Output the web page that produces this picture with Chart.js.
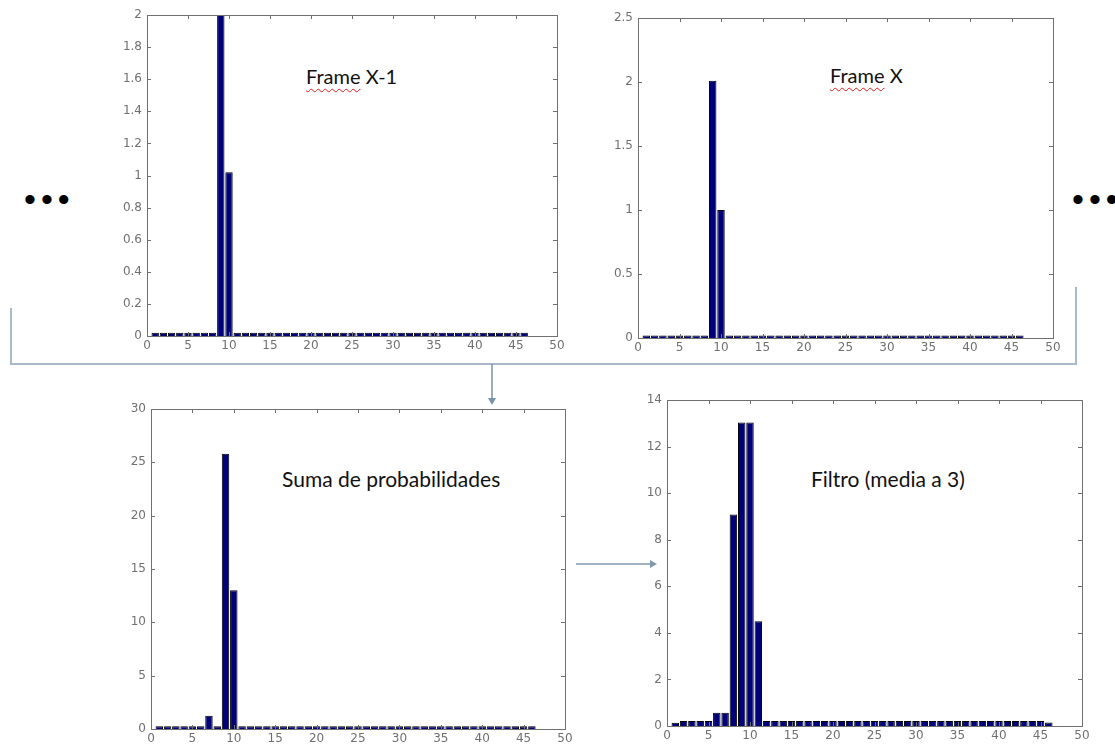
<!DOCTYPE html>
<html>
<head>
<meta charset="utf-8">
<title>Histogramas por frame</title>
<script src="https://cdn.jsdelivr.net/npm/chart.js@4.4.1/dist/chart.umd.min.js"></script>
<style>
  html, body { margin: 0; padding: 0; background: #fff; }
  #page { position: relative; width: 1115px; height: 746px; overflow: hidden; background: #fff; }
  .plot { position: absolute; }
  .note { position: absolute; font-family: Lato, 'Open Sans', sans-serif; line-height: 1; color: #111; white-space: nowrap; }
  .spell { text-decoration: underline wavy #e01b1b; text-decoration-thickness: 1px; text-underline-offset: 4px; }
  .dots { position: absolute; font-family: 'Liberation Sans', Arial, sans-serif; font-size: 34px; line-height: 1; letter-spacing: 5px; color: #000; }
  #links { position: absolute; left: 0; top: 0; }
</style>
</head>
<body>
<div id="page">
  <svg id="links" width="1115" height="746">
    <polyline points="11,308 11,364 1076,364 1076,287" fill="none" stroke="#a9b9c7" stroke-width="2"/>
    <line x1="492" y1="364" x2="492" y2="399" stroke="#7892ad" stroke-width="1.5"/>
    <polygon points="488,398 496,398 492,405" fill="#7892ad"/>
    <line x1="576" y1="564" x2="651" y2="564" stroke="#7f99ad" stroke-width="1.5"/>
    <polygon points="650,560 650,568 657,564" fill="#7f99ad"/>
  </svg>

  <div class="dots" style="left:24px; top:182px;">•••</div>
  <div class="dots" style="left:1072px; top:182px;">•••</div>

  <div class="note" style="left:306px; top:66px; font-size:20px;"><span class="spell">Frame</span> X-1</div>
  <div class="note" style="left:830px; top:65px; font-size:20px;"><span class="spell">Frame</span> X</div>
  <div class="note" style="left:282px; top:468px; font-size:21px;">Suma de probabilidades</div>
  <div class="note" style="left:811px; top:468px; font-size:21px;">Filtro (media a 3)</div>
</div>

<script>
// Bin positions (1..46) shared by every histogram
const bins = [1, 2, 3, 4, 5, 6, 7, 8, 9, 10, 11, 12, 13, 14, 15, 16, 17, 18, 19, 20, 21, 22, 23,
              24, 25, 26, 27, 28, 29, 30, 31, 32, 33, 34, 35, 36, 37, 38, 39, 40, 41, 42, 43, 44, 45, 46];

// Tick labels
const xTickValues = [0, 5, 10, 15, 20, 25, 30, 35, 40, 45, 50];
const yTicksFrameXm1 = [0, 0.2, 0.4, 0.6, 0.8, 1, 1.2, 1.4, 1.6, 1.8, 2];
const yTicksFrameX = [0, 0.5, 1, 1.5, 2, 2.5];
const yTicksSum = [0, 5, 10, 15, 20, 25, 30];
const yTicksFilter = [0, 2, 4, 6, 8, 10, 12, 14];

// Frame X-1
const frameXm1 = [0.02, 0.02, 0.02, 0.02, 0.02, 0.02, 0.02, 0.02, 2, 1.02, 0.02, 0.02, 0.02, 0.02, 0.02, 0.02,
                  0.02, 0.02, 0.02, 0.02, 0.02, 0.02, 0.02, 0.02, 0.02, 0.02, 0.02, 0.02, 0.02, 0.02, 0.02,
                  0.02, 0.02, 0.02, 0.02, 0.02, 0.02, 0.02, 0.02, 0.02, 0.02, 0.02, 0.02, 0.02, 0.02, 0.02];

// Frame X
const frameX = [0.02, 0.02, 0.02, 0.02, 0.02, 0.02, 0.02, 0.02, 2.01, 1, 0.02, 0.02, 0.02, 0.02, 0.02, 0.02,
                0.02, 0.02, 0.02, 0.02, 0.02, 0.02, 0.02, 0.02, 0.02, 0.02, 0.02, 0.02, 0.02, 0.02, 0.02,
                0.02, 0.02, 0.02, 0.02, 0.02, 0.02, 0.02, 0.02, 0.02, 0.02, 0.02, 0.02, 0.02, 0.02, 0.02];

// Suma de probabilidades
const sumProb = [0.25, 0.25, 0.25, 0.25, 0.25, 0.25, 1.25, 0.25, 25.8, 13, 0.25, 0.25, 0.25, 0.25, 0.25, 0.25,
                 0.25, 0.25, 0.25, 0.25, 0.25, 0.25, 0.25, 0.25, 0.25, 0.25, 0.25, 0.25, 0.25, 0.25, 0.25,
                 0.25, 0.25, 0.25, 0.25, 0.25, 0.25, 0.25, 0.25, 0.25, 0.25, 0.25, 0.25, 0.25, 0.25, 0.25];

// Filtro (media a 3)
const filtered = [0.14, 0.22, 0.22, 0.22, 0.22, 0.57, 0.57, 9.08, 13.03, 13.03, 4.5, 0.22, 0.22, 0.22, 0.22, 0.22,
                  0.22, 0.22, 0.22, 0.22, 0.22, 0.22, 0.22, 0.22, 0.22, 0.22, 0.22, 0.22, 0.22, 0.22, 0.22,
                  0.22, 0.22, 0.22, 0.22, 0.22, 0.22, 0.22, 0.22, 0.22, 0.22, 0.22, 0.22, 0.22, 0.22, 0.15];

// Draws the axes box with inward ticks on all four sides
const boxPlugin = {
    id: 'matlabBox',
    afterDatasetsDraw(chart) {
        const ctx = chart.ctx;
        const a = chart.chartArea;
        const x = chart.scales.x;
        const y = chart.scales.y;
        ctx.save();
        ctx.strokeStyle = '#707070';
        ctx.lineWidth = 1;
        ctx.strokeRect(Math.round(a.left) + 0.5, Math.round(a.top) + 0.5,
                       Math.round(a.right - a.left), Math.round(a.bottom - a.top));
        ctx.beginPath();
        x.ticks.forEach(t => {
            const px = Math.round(x.getPixelForValue(t.value)) + 0.5;
            ctx.moveTo(px, a.bottom); ctx.lineTo(px, a.bottom - 4);
            ctx.moveTo(px, a.top); ctx.lineTo(px, a.top + 4);
        });
        y.ticks.forEach(t => {
            const py = Math.round(y.getPixelForValue(t.value)) + 0.5;
            ctx.moveTo(a.left, py); ctx.lineTo(a.left + 4, py);
            ctx.moveTo(a.right, py); ctx.lineTo(a.right - 4, py);
        });
        ctx.stroke();
        ctx.restore();
    }
};

// Build one histogram so that its plot area lands on the given box
function initHistChart(box, values, yTicks) {
    const padL = 4, yW = 40, padT = 12, padR = 16, xH = 18;
    const canvas = document.createElement('canvas');
    canvas.className = 'plot';
    canvas.width = padL + yW + (box.right - box.left) + padR;
    canvas.height = padT + (box.bottom - box.top) + xH;
    canvas.style.left = (box.left - yW - padL) + 'px';
    canvas.style.top = (box.top - padT) + 'px';
    document.getElementById('page').appendChild(canvas);

    const tickFont = { family: "'DejaVu Sans', sans-serif", size: 12 };

    new Chart(canvas.getContext('2d'), {
        type: 'bar',
        data: {
            datasets: [{
                data: bins.map((b, i) => ({ x: b, y: values[i] })),
                backgroundColor: '#00007a',
                borderColor: '#000000',
                borderWidth: 1,
                barPercentage: 0.9,
                categoryPercentage: 1
            }]
        },
        options: {
            responsive: false,
            animation: false,
            events: [],
            layout: { padding: { left: padL, top: padT, right: padR, bottom: 0 } },
            plugins: {
                legend: { display: false },
                tooltip: { enabled: false }
            },
            scales: {
                x: {
                    type: 'linear',
                    min: 0,
                    max: 50,
                    offset: false,
                    grid: { display: false, drawTicks: false },
                    border: { display: false },
                    afterBuildTicks: s => { s.ticks = xTickValues.map(v => ({ value: v })); },
                    afterFit: s => { s.height = xH; s.paddingLeft = 0; s.paddingRight = 0; },
                    ticks: { color: '#707070', font: tickFont, padding: 3, maxRotation: 0, autoSkip: false,
                             callback: v => String(v) }
                },
                y: {
                    min: 0,
                    max: yTicks[yTicks.length - 1],
                    grid: { display: false, drawTicks: false },
                    border: { display: false },
                    afterBuildTicks: s => { s.ticks = yTicks.map(v => ({ value: v })); },
                    afterFit: s => { s.width = yW; s.paddingTop = 0; s.paddingBottom = 0; },
                    ticks: { color: '#707070', font: tickFont, padding: 5, autoSkip: false,
                             callback: v => String(v) }
                }
            }
        },
        plugins: [boxPlugin]
    });
}

initHistChart({ left: 147, top: 15, right: 557, bottom: 336 }, frameXm1, yTicksFrameXm1);
initHistChart({ left: 638, top: 18, right: 1053, bottom: 338 }, frameX, yTicksFrameX);
initHistChart({ left: 151, top: 409, right: 565, bottom: 729 }, sumProb, yTicksSum);
initHistChart({ left: 667, top: 400, right: 1082, bottom: 726 }, filtered, yTicksFilter);
</script>
</body>
</html>
